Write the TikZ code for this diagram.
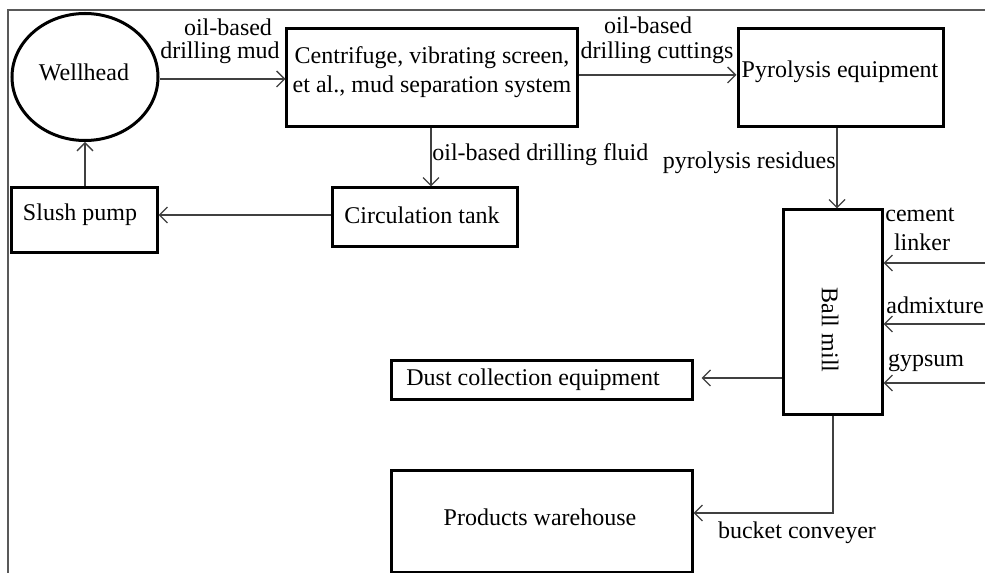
\documentclass[tikz,border=0pt]{standalone}
\usepackage{fontspec}
\setmainfont{Liberation Serif}
\usetikzlibrary{arrows.meta,shapes.geometric,calc}
\begin{document}
\begin{tikzpicture}[x=0.5bp,y=-0.5bp,
  box/.style={draw=black,line width=1.5bp,inner sep=0pt},
  flow/.style={draw=black!75,line width=0.7bp,-{Straight Barb[length=4bp,width=8bp]}},
  txt/.style={inner sep=0pt,font=\fontsize{12bp}{14bp}\selectfont},
  frameline/.style={draw=black!65,line width=0.6bp}]
\useasboundingbox (0,0) rectangle (985,573);
% frame
\coordinate (ftr) at (985,10);
\coordinate (ftl) at (8,10);
\coordinate (fbl) at (8,573);
\draw[frameline] (ftr) -- (ftl) -- (fbl);

% boxes
\node[box,ellipse,minimum width=73bp,minimum height=63.5bp] (well) at (85,77) {};
\node[box,minimum width=145bp,minimum height=49bp] (cent) at (432,78) {};
\node[box,minimum width=102.5bp,minimum height=49bp] (pyro) at (840.5,78) {};
\node[box,minimum width=72.5bp,minimum height=32.5bp] (slush) at (84.5,220.5) {};
\node[box,minimum width=92bp,minimum height=29.5bp] (circ) at (425,217.5) {};
\node[box,minimum width=49.5bp,minimum height=102bp] (ball) at (832.5,312) {};
\node[box,minimum width=150bp,minimum height=19.5bp] (dust) at (542,380.5) {};
\node[box,minimum width=150bp,minimum height=51bp] (ware) at (542,521.5) {};

% box texts
\node[txt] (tWell) at (84,72) {Wellhead};
\node[txt] (tCent1) at (432,58) {Centrifuge, vibrating screen,};
\node[txt] (tCent2) at (432,87) {et al., mud separation system};
\node[txt] (tPyro) at (840,72) {Pyrolysis equipment};
\node[txt] (tSlush) at (80,215) {Slush pump};
\node[txt] (tCirc) at (422,215) {Circulation tank};
\node[txt,rotate=-90] (tBall) at (830,330) {Ball mill};
\node[txt] (tDust) at (533,380) {Dust collection equipment};
\node[txt] (tWare) at (540,517) {Products warehouse};

% connectors
\draw[flow] (well.east |- 0,79) -- (cent.west |- 0,79);
\draw[flow] (cent.east |- 0,75) -- (pyro.west |- 0,75);
\draw[flow] (cent.south -| 431,0) -- (circ.north -| 431,0);
\draw[flow] (pyro.south -| 837,0) -- (ball.north -| 837,0);
\draw[flow] (circ.west |- 0,215) -- (slush.east |- 0,215);
\draw[flow] (slush.north -| 85,0) -- (well.south);
\draw[flow,shorten >=4bp] (ball.west |- 0,378) -- (dust.east |- 0,378);
\draw[flow] (ball.south -| 833,0) |- (ware.east |- 0,513);

\coordinate (in1) at (985,263);
\coordinate (in2) at (985,324);
\coordinate (in3) at (985,383);
\draw[flow] (in1) -- (ball.east |- in1);
\draw[flow] (in2) -- (ball.east |- in2);
\draw[flow] (in3) -- (ball.east |- in3);

% connector labels
\node[txt] (lMud1) at (228,27) {oil-based};
\node[txt] (lMud2) at (220,53) {drilling mud};
\node[txt] (lCut1) at (648,25) {oil-based};
\node[txt] (lCut2) at (657,53) {drilling cuttings};
\node[txt,anchor=west] (lFluid) at (432,155) {oil-based drilling fluid};
\node[txt,anchor=east] (lRes) at (836,163) {pyrolysis residues};
\node[txt] (lCem1) at (920,215) {cement};
\node[txt] (lCem2) at (922,242) {linker};
\node[txt] (lAdm) at (935,305) {admixture};
\node[txt] (lGyp) at (926,363) {gypsum};
\node[txt] (lBuck) at (797,533) {bucket conveyer};
\end{tikzpicture}
\end{document}
